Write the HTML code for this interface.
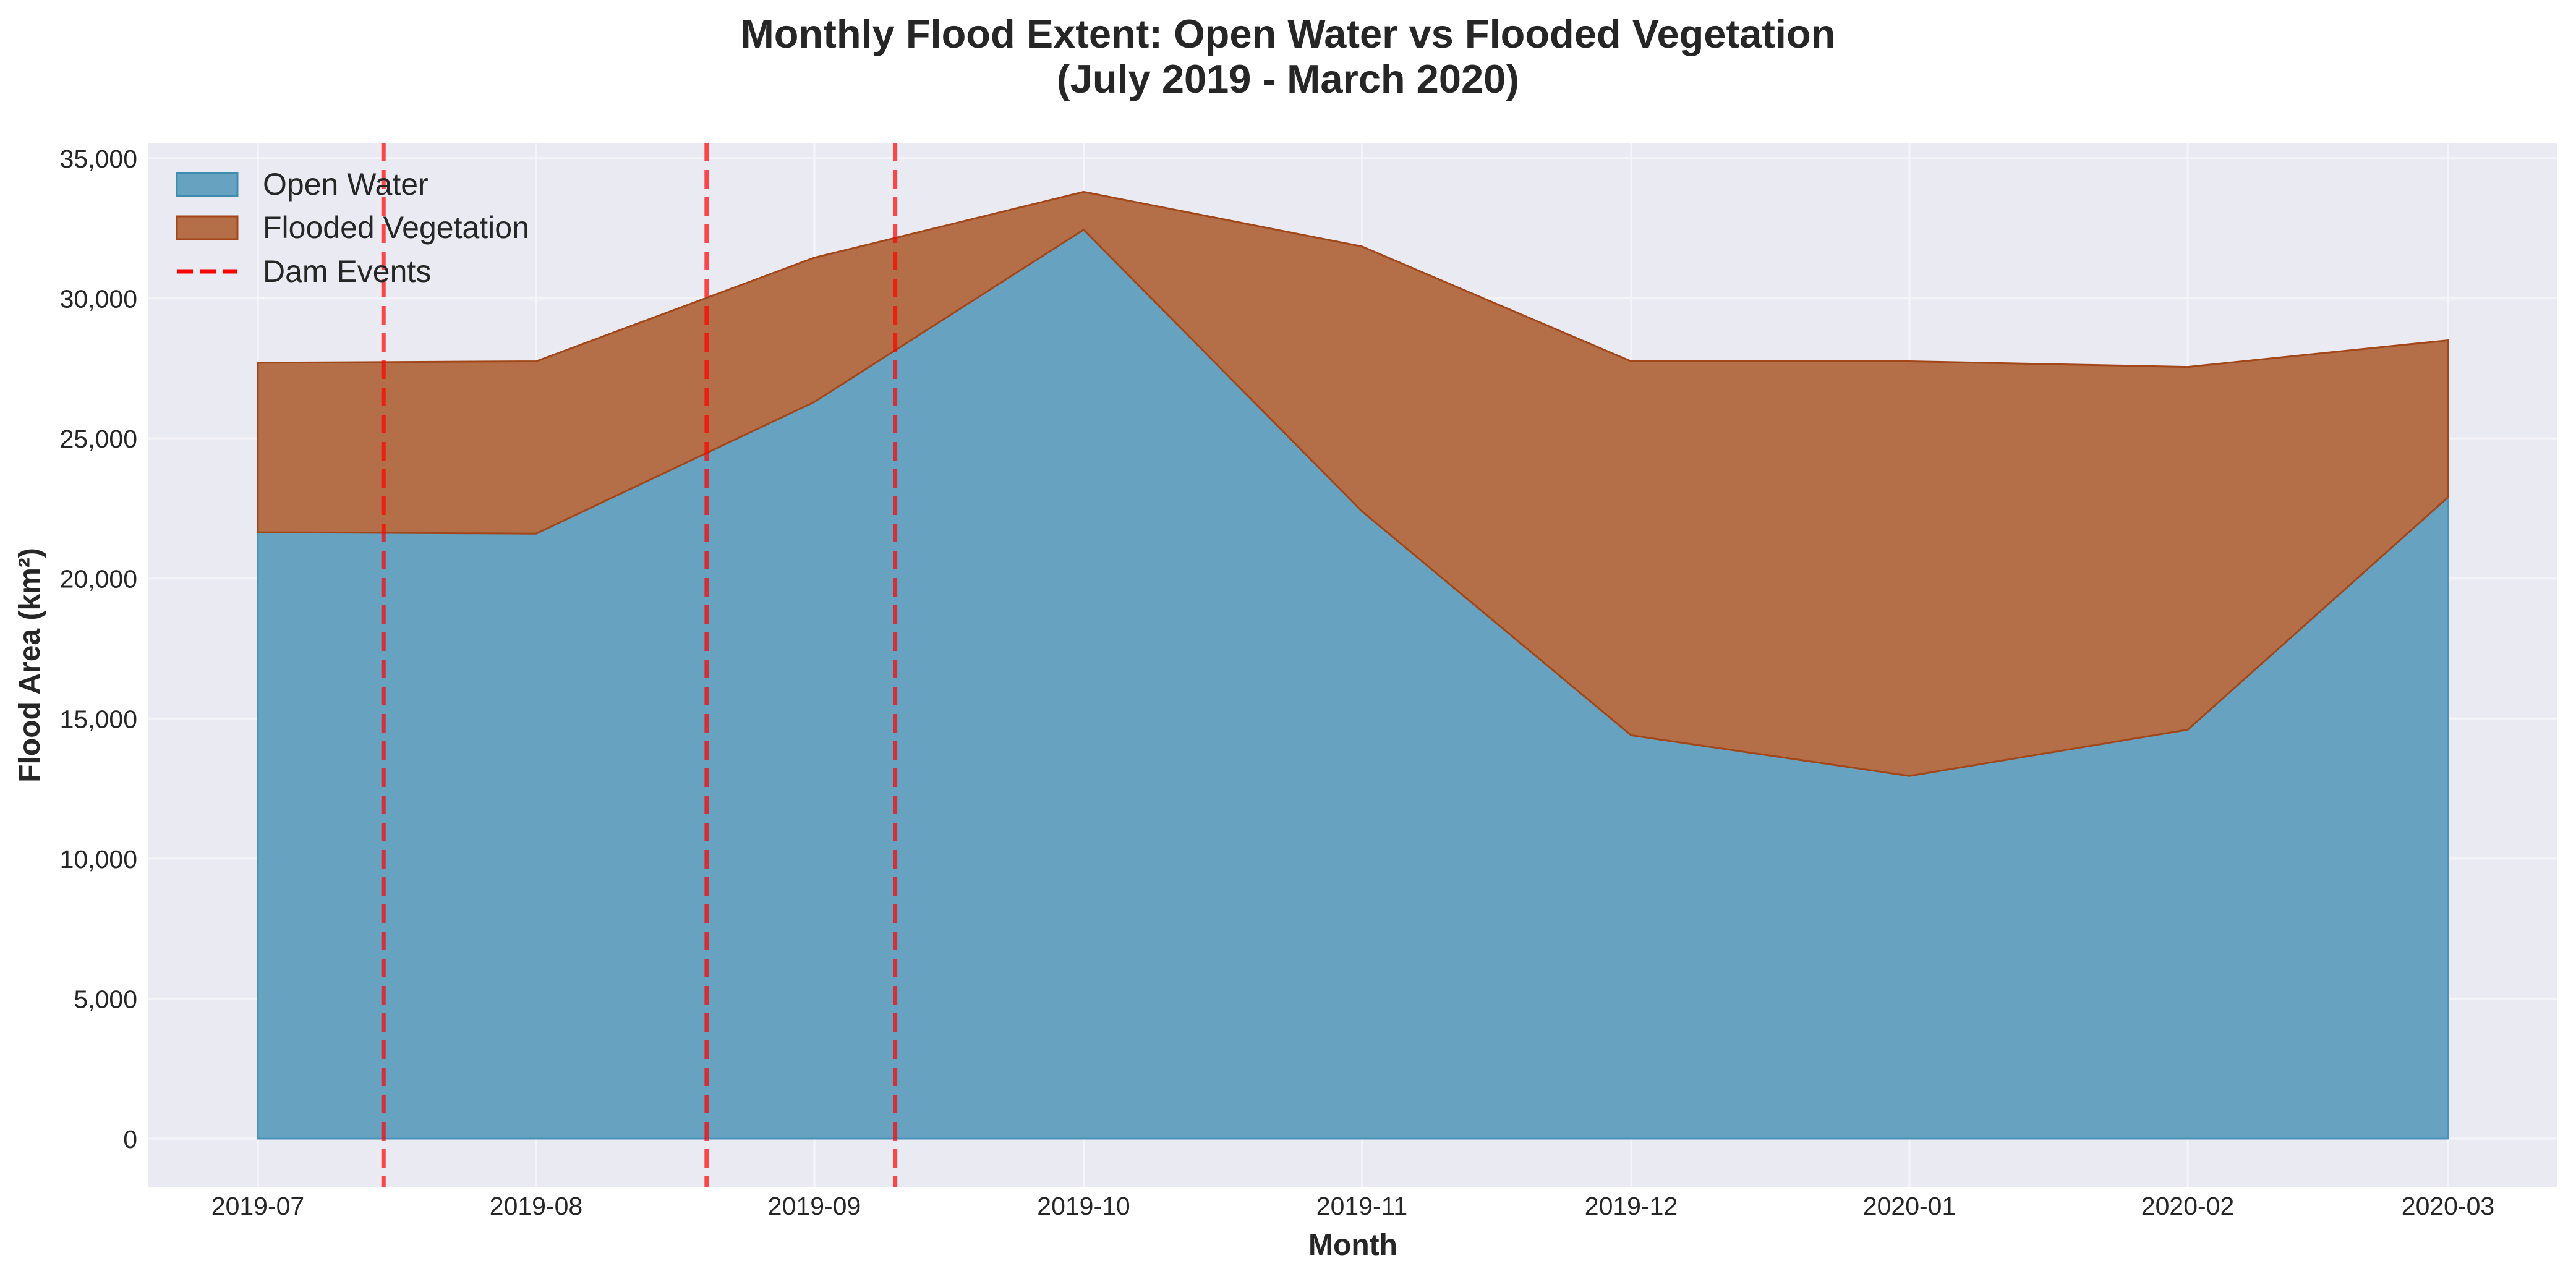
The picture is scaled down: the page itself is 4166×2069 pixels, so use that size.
<!DOCTYPE html>
<html><head><meta charset="utf-8"><style>
html,body{margin:0;padding:0;background:#fff;}
svg{display:block;font-family:"Liberation Sans",Arial,sans-serif;}
</style></head><body>
<svg id="chart" width="4166" height="2069" viewBox="0 0 4166 2069">
<text x="2083" y="77" text-anchor="middle" font-size="65" font-weight="bold" fill="#262626">Monthly Flood Extent: Open Water vs Flooded Vegetation</text>
<text x="2083" y="150" text-anchor="middle" font-size="65" font-weight="bold" fill="#262626">(July 2019 - March 2020)</text>
<rect x="240" y="231" width="3896" height="1689" fill="#eaeaf2"/>
<g id="grid"></g>
<g id="areas"></g>
<g id="dams"></g>
<g id="yticks"></g>
<g id="xticks"></g>
<text x="0" y="0" transform="translate(64,1076) rotate(-90)" text-anchor="middle" font-size="48" font-weight="bold" fill="#262626">Flood Area (km²)</text>
<text x="2188" y="2030" text-anchor="middle" font-size="48" font-weight="bold" fill="#262626">Month</text>
<g>
<g>
<rect x="286" y="280" width="98" height="37" fill="#67a3c1" stroke="#3e8cb0" stroke-width="3"/>
<text x="425" y="315" font-size="50" fill="#262626">Open Water</text></g>
<g>
<rect x="286" y="350" width="98" height="37" fill="#b56f48" stroke="#a2471a" stroke-width="3"/>
<text x="425" y="385" font-size="50" fill="#262626">Flooded Vegetation</text></g>
<g>
<line x1="286" y1="439" x2="384" y2="439" stroke="#ff0000" stroke-width="7" stroke-dasharray="26,11"/>
<text x="425" y="456" font-size="50" fill="#262626">Dam Events</text></g>
</g>
</svg>
<script>
const months = ["2019-07","2019-08","2019-09","2019-10","2019-11","2019-12","2020-01","2020-02","2020-03"];
const openWater = [21650,21600,26300,32450,22400,14400,12950,14600,22900];
const floodedVeg = [6050,6150,5150,1350,9450,13350,14800,12950,5600];
const damEvents = ["2019-07-15","2019-08-20","2019-09-10"];
const yTicks = [0,5000,10000,15000,20000,25000,30000,35000];

const NS="http://www.w3.org/2000/svg";
const day0 = Date.UTC(2019,6,1);
function days(s){const p=s.split("-").map(Number);return (Date.UTC(p[0],p[1]-1,p[2]||1)-day0)/86400000;}
const X0=417, PXD=3542/244;
function xs(s){return X0+days(s)*PXD;}
function ys(v){return 1842-(v/35000)*(1842-256);}
function mk(tag,attrs,parent){const e=document.createElementNS(NS,tag);for(const k in attrs)e.setAttribute(k,attrs[k]);parent.appendChild(e);return e;}

const grid=document.getElementById("grid");
yTicks.forEach(v=>{const l=mk("line",{x1:240,x2:4136,y1:ys(v),y2:ys(v),stroke:"#f5f5f9","stroke-width":3},grid);

});
months.forEach(m=>{const l=mk("line",{x1:xs(m),x2:xs(m),y1:231,y2:1920,stroke:"#f5f5f9","stroke-width":3},grid);

});

const areas=document.getElementById("areas");
const total=openWater.map((v,i)=>v+floodedVeg[i]);
const p1="M"+months.map((m,i)=>xs(m)+","+ys(openWater[i])).join(" L")+" L"+xs(months[months.length-1])+","+ys(0)+" L"+xs(months[0])+","+ys(0)+" Z";
const a1=mk("path",{d:p1,fill:"#67a3c1",stroke:"#4a93b8","stroke-width":3},areas);


const topPts=months.map((m,i)=>xs(m)+","+ys(total[i]));
const botPts=months.map((m,i)=>xs(m)+","+ys(openWater[i])).reverse();
const a2=mk("path",{d:"M"+topPts.join(" L")+" L"+botPts.join(" L")+" Z",fill:"#b56f48",stroke:"#a2471a","stroke-width":3},areas);



const dams=document.getElementById("dams");
damEvents.forEach(d=>{const l=mk("line",{x1:xs(d),x2:xs(d),y1:231,y2:1920,stroke:"#ff0000","stroke-opacity":0.7,"stroke-width":7,"stroke-dasharray":"30,14"},dams);

});

const yt=document.getElementById("yticks");
yTicks.forEach(v=>{const t=mk("text",{x:222,y:ys(v)+15,"text-anchor":"end","font-size":41,fill:"#262626"},yt);t.textContent=v.toLocaleString("en-US");

});
const xt=document.getElementById("xticks");
months.forEach(m=>{const t=mk("text",{x:xs(m),y:1965,"text-anchor":"middle","font-size":41,fill:"#262626"},xt);t.textContent=m;

});
</script>
</body></html>
